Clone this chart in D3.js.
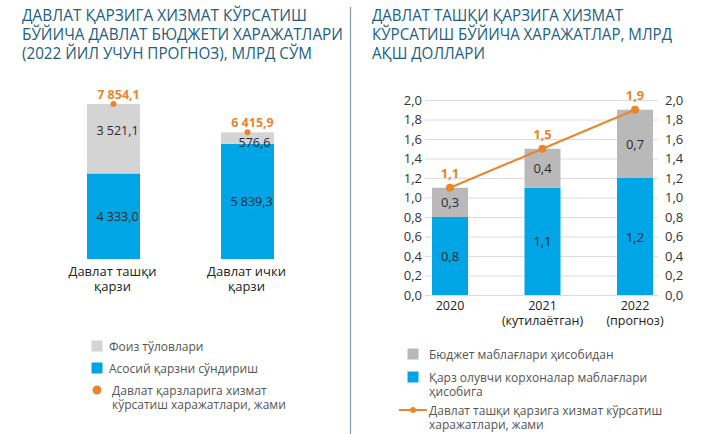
<!DOCTYPE html>
<html>
<head>
  <meta charset="utf-8">
  <script src="https://d3js.org/d3.v7.min.js"></script>
  <style>
    body { margin: 0; background: #fff; }
    text { font-family: "Open Sans", "Noto Sans", sans-serif; }
  </style>
</head>
<body>
<script>
  var width = 721;
  var height = 434;

  // chap grafik: mlrd so'm
  var leftCats = ["Давлат ташқи|қарзи", "Давлат ички|қарзи"];
  var leftPrincipal = [4333.0, 5839.3];
  var leftInterest = [3521.1, 576.6];
  var leftTotal = [7854.1, 6415.9];

  // o'ng grafik: mlrd AQSh dollari
  var rightYears = ["2020", "2021", "2022"];
  var rightNotes = ["", "(кутилаётган)", "(прогноз)"];
  var rightCompanies = [0.8, 1.1, 1.2];
  var rightBudget = [0.3, 0.4, 0.7];
  var rightTotal = [1.1, 1.5, 1.9];
  var rightTicks = [0, 0.2, 0.4, 0.6, 0.8, 1.0, 1.2, 1.4, 1.6, 1.8, 2.0];

  var leftTitle = ["ДАВЛАТ ҚАРЗИГА ХИЗМАТ КЎРСАТИШ", "БЎЙИЧА ДАВЛАТ БЮДЖЕТИ ХАРАЖАТЛАРИ", "(2022 ЙИЛ УЧУН ПРОГНОЗ), МЛРД СЎМ"];
  var rightTitle = ["ДАВЛАТ ТАШҚИ ҚАРЗИГА ХИЗМАТ", "КЎРСАТИШ БЎЙИЧА ХАРАЖАТЛАР, МЛРД", "АҚШ ДОЛЛАРИ"];

  var blue = "#00a5e5", grayL = "#d4d4d4", grayR = "#b9b9b9", orange = "#e8862c";
  var titleColor = "#22607e";

  var loc = d3.formatLocale({ decimal: ",", thousands: " ", grouping: [3], currency: ["", ""] });
  var f1 = loc.format(",.1f");

  var svg = d3.select("body").append("svg")
    .attr("width", width)
    .attr("height", height);

  // ajratuvchi chiziq
  svg.append("line")
    .attr("x1", 350.5).attr("x2", 350.5)
    .attr("y1", 7).attr("y2", height)
    .style("stroke", "#7d9aad").style("stroke-width", 1.2);

  function title(lines, x, widths) {
    svg.selectAll(null).data(lines).enter().append("text")
      .attr("x", x)
      .attr("y", function(d, i) { return 21 + i * 19; })
      .attr("textLength", function(d, i) { return widths[i]; })
      .attr("lengthAdjust", "spacingAndGlyphs")
      .style("font-size", "15.5px")
      .style("fill", titleColor)
      .text(function(d) { return d; });
  }
  title(leftTitle, 22, [285, 321, 290]);
  title(rightTitle, 372, [251, 300, 113]);

  // ---------- chap grafik ----------
  var xL = d3.scalePoint().domain(d3.range(leftCats.length)).range([113.5, 247.5]);
  var yL = d3.scaleLinear().domain([0, 8000]).range([259, 101.1]);
  var bwL = 53;

  var gL = svg.append("g");
  gL.selectAll(".bp").data(leftPrincipal).enter().append("rect")
    .attr("x", function(d, i) { return xL(i) - bwL / 2; })
    .attr("y", function(d) { return yL(d); })
    .attr("width", bwL)
    .attr("height", function(d) { return yL(0) - yL(d); })
    .style("fill", blue);

  gL.selectAll(".bi").data(leftInterest).enter().append("rect")
    .attr("x", function(d, i) { return xL(i) - bwL / 2; })
    .attr("y", function(d, i) { return yL(leftPrincipal[i] + d); })
    .attr("width", bwL)
    .attr("height", function(d, i) { return yL(leftPrincipal[i]) - yL(leftPrincipal[i] + d); })
    .style("fill", grayL);

  gL.selectAll(".lp").data(leftPrincipal).enter().append("text")
    .attr("x", function(d, i) { return xL(i) + 4; })
    .attr("y", function(d, i) { return i == 0 ? yL(d / 2) + 5 : yL(d) + 62; })
    .attr("text-anchor", "middle")
    .style("font-size", "12.5px").style("fill", "#2b2b2b")
    .text(function(d) { return f1(d); });

  gL.selectAll(".li").data(leftInterest).enter().append("text")
    .attr("x", function(d, i) { return xL(i) + 4 + (i == 1 ? 3 : 0); })
    .attr("y", function(d, i) { return i == 0 ? yL(leftPrincipal[i] + d / 2) - 4 : yL(leftPrincipal[i]) + 3; })
    .attr("text-anchor", "middle")
    .style("font-size", "12.5px").style("fill", "#2b2b2b")
    .text(function(d) { return f1(d); });

  gL.selectAll(".dot").data(leftTotal).enter().append("circle")
    .attr("cx", function(d, i) { return xL(i); })
    .attr("cy", function(d) { return yL(d); })
    .attr("r", 3)
    .style("fill", orange);

  gL.selectAll(".lt").data(leftTotal).enter().append("text")
    .attr("x", function(d, i) { return xL(i) + 5; })
    .attr("y", function(d) { return yL(d) - 5; })
    .attr("text-anchor", "middle")
    .style("font-size", "12.5px").style("font-weight", "bold").style("fill", orange)
    .text(function(d) { return f1(d); });

  gL.selectAll(".xl").data(leftCats).enter().append("text")
    .attr("x", function(d, i) { return xL(i) - 1; })
    .attr("y", 276)
    .attr("text-anchor", "middle")
    .style("font-size", "13px").style("fill", "#222")
    .each(function(d) {
      var parts = d.split("|");
      d3.select(this).selectAll("tspan").data(parts).enter().append("tspan")
        .attr("x", d3.select(this).attr("x"))
        .attr("dy", function(p, j) { return j ? 15 : 0; })
        .text(function(p) { return p; });
    });

  // ---------- o'ng grafik ----------
  var xR = d3.scalePoint().domain(rightYears).range([450, 635]);
  var yR = d3.scaleLinear().domain([0, 2]).range([295, 100]);
  var bwR = 36;
  var gR = svg.append("g");

  gR.append("g")
    .attr("transform", "translate(425,0)")
    .call(d3.axisLeft(yR).tickValues(rightTicks).tickSize(-233).tickPadding(3).tickFormat(loc.format(".1f")))
    .call(function(g) {
      g.select(".domain").remove();
      g.selectAll(".tick line").style("stroke", "#dcdcdc");
      g.selectAll(".tick text").style("font-size", "13px").style("fill", "#333");
    });

  gR.append("g")
    .attr("transform", "translate(658,0)")
    .call(d3.axisRight(yR).tickValues(rightTicks).tickSize(0).tickPadding(7).tickFormat(loc.format(".1f")))
    .call(function(g) {
      g.select(".domain").remove();
      g.selectAll(".tick text").style("font-size", "13px").style("fill", "#333");
    });

  gR.selectAll(".rc").data(rightCompanies).enter().append("rect")
    .attr("x", function(d, i) { return xR(rightYears[i]) - bwR / 2; })
    .attr("y", function(d) { return yR(d); })
    .attr("width", bwR)
    .attr("height", function(d) { return yR(0) - yR(d); })
    .style("fill", blue);

  gR.selectAll(".rb").data(rightBudget).enter().append("rect")
    .attr("x", function(d, i) { return xR(rightYears[i]) - bwR / 2; })
    .attr("y", function(d, i) { return yR(rightCompanies[i] + d); })
    .attr("width", bwR)
    .attr("height", function(d, i) { return yR(rightCompanies[i]) - yR(rightCompanies[i] + d); })
    .style("fill", grayR);

  gR.selectAll(".rcl").data(rightCompanies).enter().append("text")
    .attr("x", function(d, i) { return xR(rightYears[i]); })
    .attr("y", function(d) { return (yR(0) + yR(d)) / 2 + 5; })
    .attr("text-anchor", "middle")
    .style("font-size", "13px").style("fill", "#2b2b2b")
    .text(function(d) { return loc.format(".1f")(d); });

  gR.selectAll(".rbl").data(rightBudget).enter().append("text")
    .attr("x", function(d, i) { return xR(rightYears[i]); })
    .attr("y", function(d, i) { return (yR(rightCompanies[i]) + yR(rightCompanies[i] + d)) / 2 + 5; })
    .attr("text-anchor", "middle")
    .style("font-size", "13px").style("fill", "#2b2b2b")
    .text(function(d) { return loc.format(".1f")(d); });

  var line = d3.line()
    .x(function(d, i) { return xR(rightYears[i]); })
    .y(function(d) { return yR(d); });

  gR.append("path")
    .datum(rightTotal)
    .attr("d", line)
    .style("fill", "none").style("stroke", orange).style("stroke-width", 2);

  gR.selectAll(".rd").data(rightTotal).enter().append("circle")
    .attr("cx", function(d, i) { return xR(rightYears[i]); })
    .attr("cy", function(d) { return yR(d); })
    .attr("r", 4)
    .style("fill", orange);

  gR.selectAll(".rtl").data(rightTotal).enter().append("text")
    .attr("x", function(d, i) { return xR(rightYears[i]); })
    .attr("y", function(d) { return yR(d) - 10; })
    .attr("text-anchor", "middle")
    .style("font-size", "13px").style("font-weight", "bold").style("fill", orange)
    .text(function(d) { return loc.format(".1f")(d); });

  gR.selectAll(".yr").data(rightYears).enter().append("text")
    .attr("x", function(d) { return xR(d); })
    .attr("y", 310)
    .attr("text-anchor", "middle")
    .style("font-size", "12.5px").style("fill", "#222")
    .text(function(d) { return d; });

  gR.selectAll(".yn").data(rightNotes).enter().append("text")
    .attr("x", function(d, i) { return xR(rightYears[i]); })
    .attr("y", 325)
    .attr("text-anchor", "middle")
    .style("font-size", "12.5px").style("fill", "#222")
    .text(function(d) { return d; });

  // ---------- legendalar ----------
  var legL = [
    { type: "rect", color: grayL, lines: ["Фоиз тўловлари"], y: 346 },
    { type: "rect", color: blue, lines: ["Асосий қарзни сўндириш"], y: 368 },
    { type: "dot", color: orange, lines: ["Давлат қарзларига хизмат", "кўрсатиш харажатлари, жами"], y: 390 }
  ];
  var legR = [
    { type: "rect", color: grayR, lines: ["Бюджет маблағлари ҳисобидан"], y: 354 },
    { type: "rect", color: blue, lines: ["Қарз олувчи корхоналар маблағлари", "ҳисобига"], y: 377 },
    { type: "line", color: orange, lines: ["Давлат ташқи қарзига хизмат кўрсатиш", "харажатлари, жами"], y: 410 }
  ];

  function legend(items, mx, tx) {
    var g = svg.append("g");
    items.forEach(function(d) {
      if (d.type == "rect") {
        g.append("rect").attr("x", mx - 5.5).attr("y", d.y - 5.5).attr("width", 11).attr("height", 11).style("fill", d.color);
      } else if (d.type == "dot") {
        g.append("circle").attr("cx", mx).attr("cy", d.y).attr("r", 4.5).style("fill", d.color);
      } else {
        g.append("line").attr("x1", mx - 14).attr("x2", mx + 14).attr("y1", d.y).attr("y2", d.y).style("stroke", d.color).style("stroke-width", 2);
        g.append("circle").attr("cx", mx).attr("cy", d.y).attr("r", 3).style("fill", d.color);
      }
      g.append("text")
        .attr("x", tx)
        .attr("y", d.y + 4.5)
        .style("font-size", "12px").style("fill", "#555")
        .selectAll("tspan").data(d.lines).enter().append("tspan")
        .attr("x", function(p, j) { return tx + (d.type == "dot" ? 3 : 0); })
        .attr("dy", function(p, j) { return j ? 14 : 0; })
        .text(function(p) { return p; });
    });
  }
  legend(legL, 97, 109);
  legend(legR, 413, 429);
</script>
</body>
</html>
